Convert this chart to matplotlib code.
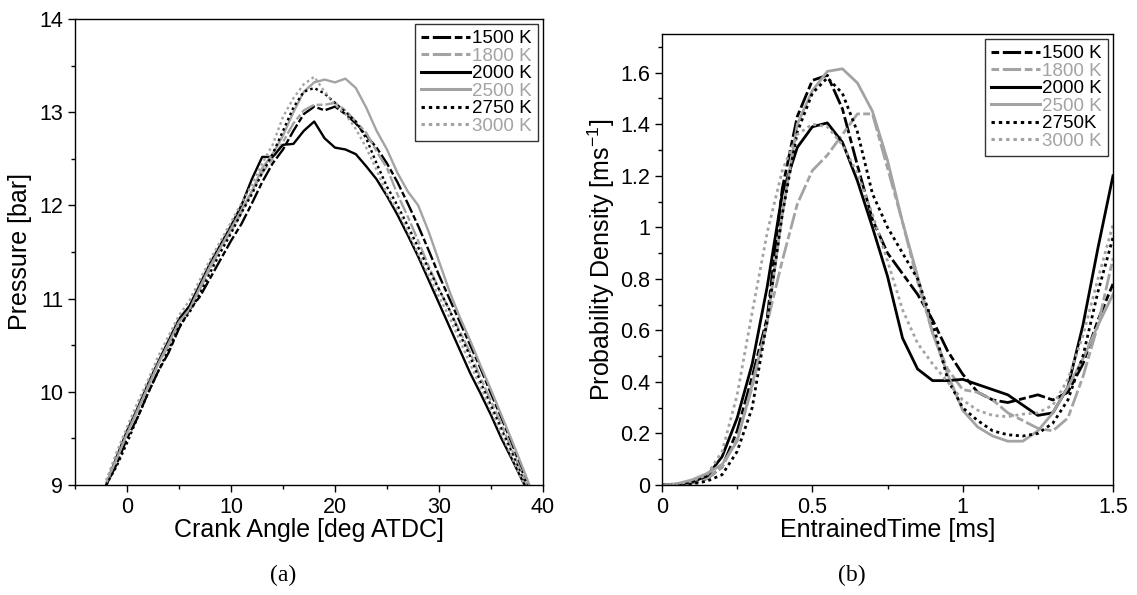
import numpy as np
import matplotlib
matplotlib.use('Agg')
import matplotlib.pyplot as plt
from matplotlib.ticker import MultipleLocator, FuncFormatter

plt.rcParams['font.family'] = ['Liberation Sans', 'DejaVu Sans']

# ---- panel (a): in-cylinder pressure vs crank angle ----
crank = [-2, -1, 0, 1, 2, 3, 4, 5, 6, 7, 8, 9, 10, 11, 12, 13, 14, 15, 16, 17, 18,
         19, 20, 21, 22, 23, 24, 25, 26, 27, 28, 29, 30, 31, 32, 33, 34, 35, 36, 37, 38, 38.7]
p1500 = [9.0, 9.22, 9.5, 9.72, 9.98, 10.22, 10.42, 10.68, 10.88, 11.02, 11.22, 11.42, 11.62, 11.8,
         12.02, 12.25, 12.45, 12.6, 12.8, 12.98, 13.06,
         13.02, 13.06, 12.98, 12.88, 12.75, 12.62, 12.45, 12.25, 12.02, 11.78, 11.52, 11.25, 11.0,
         10.75, 10.5, 10.25, 9.98, 9.72, 9.45, 9.15, 8.95]
p1800 = [9.02, 9.3, 9.55, 9.8, 10.05, 10.3, 10.5, 10.75, 10.9, 11.1, 11.32, 11.55, 11.72, 11.92,
         12.15, 12.35, 12.5, 12.68, 12.88, 13.02, 13.08,
         13.08, 13.1, 13.02, 12.9, 12.78, 12.58, 12.4, 12.12, 11.88, 11.62, 11.35, 11.1, 10.88,
         10.65, 10.42, 10.15, 9.9, 9.65, 9.38, 9.12, 8.95]
p2000 = [9.0, 9.3, 9.58, 9.82, 10.08, 10.32, 10.55, 10.78, 10.92, 11.15, 11.38, 11.58, 11.78, 12.0,
         12.28, 12.52, 12.52, 12.65, 12.66, 12.8, 12.9,
         12.72, 12.62, 12.6, 12.55, 12.42, 12.28, 12.1, 11.9, 11.68, 11.45, 11.2, 10.95, 10.7,
         10.45, 10.2, 9.98, 9.75, 9.5, 9.28, 9.05, 8.9]
p2500 = [9.02, 9.28, 9.55, 9.8, 10.05, 10.3, 10.52, 10.75, 10.88, 11.12, 11.35, 11.55, 11.75, 11.95,
         12.15, 12.4, 12.55, 12.75, 13.0, 13.22, 13.32,
         13.35, 13.32, 13.36, 13.26, 13.05, 12.8, 12.6, 12.35, 12.15, 12.0, 11.72, 11.4, 11.08,
         10.8, 10.55, 10.28, 10.02, 9.75, 9.48, 9.2, 9.0]
p2750 = [9.0, 9.2, 9.45, 9.72, 9.98, 10.22, 10.45, 10.7, 10.85, 11.05, 11.28, 11.5, 11.7, 11.92,
         12.12, 12.35, 12.55, 12.8, 13.05, 13.22, 13.26,
         13.2, 13.1, 13.0, 12.9, 12.72, 12.45, 12.2, 12.0, 11.78, 11.55, 11.32, 11.1, 10.88,
         10.62, 10.38, 10.1, 9.85, 9.6, 9.35, 9.08, 8.95]
p3000 = [9.05, 9.35, 9.62, 9.88, 10.12, 10.38, 10.6, 10.82, 10.98, 11.2, 11.42, 11.62, 11.82, 12.02,
         12.22, 12.45, 12.65, 12.95, 13.15, 13.3, 13.38,
         13.22, 13.08, 12.98, 12.82, 12.62, 12.38, 12.12, 11.95, 11.72, 11.48, 11.25, 11.02, 10.8,
         10.55, 10.3, 10.05, 9.8, 9.55, 9.3, 9.05, 8.95]

# ---- panel (b): entrained time pdf ----
etime = [0.0, 0.05, 0.1, 0.15, 0.2, 0.25, 0.3, 0.35, 0.4, 0.45, 0.5, 0.55, 0.6, 0.65, 0.7, 0.75,
         0.8, 0.85, 0.9, 0.95, 1.0, 1.05, 1.1, 1.15, 1.2, 1.25, 1.3, 1.35, 1.4, 1.45, 1.5]
d1500 = [0.0, 0.002, 0.008, 0.025, 0.07, 0.21, 0.42, 0.65, 1.15, 1.43, 1.57, 1.59, 1.46, 1.24, 1.03,
         0.9, 0.82, 0.74, 0.64, 0.52, 0.43, 0.36, 0.33, 0.32, 0.335, 0.35, 0.33, 0.36, 0.47, 0.64, 0.78]
d1800 = [0.0, 0.002, 0.008, 0.025, 0.07, 0.18, 0.38, 0.63, 0.87, 1.09, 1.22, 1.28, 1.36, 1.44, 1.44,
         1.23, 1.02, 0.79, 0.59, 0.45, 0.37, 0.36, 0.33, 0.28, 0.25, 0.22, 0.21, 0.26, 0.42, 0.62, 0.88]
d2000 = [0.0, 0.003, 0.012, 0.035, 0.11, 0.26, 0.47, 0.77, 1.13, 1.31, 1.39, 1.405, 1.33, 1.18, 1.0,
         0.81, 0.57, 0.45, 0.405, 0.405, 0.41, 0.39, 0.37, 0.35, 0.31, 0.27, 0.28, 0.38, 0.62, 0.92, 1.2]
d2500 = [0.0, 0.005, 0.02, 0.045, 0.08, 0.17, 0.39, 0.63, 1.05, 1.4, 1.53, 1.605, 1.615, 1.56, 1.45,
         1.26, 1.02, 0.81, 0.59, 0.43, 0.29, 0.225, 0.19, 0.17, 0.17, 0.21, 0.28, 0.38, 0.49, 0.62, 0.74]
d2750 = [0.0, 0.001, 0.004, 0.015, 0.04, 0.13, 0.3, 0.64, 1.05, 1.37, 1.52, 1.58, 1.52, 1.37, 1.13,
         1.0, 0.9, 0.8, 0.63, 0.41, 0.3, 0.25, 0.21, 0.195, 0.19, 0.2, 0.24, 0.33, 0.5, 0.75, 0.96]
d3000 = [0.0, 0.003, 0.015, 0.04, 0.13, 0.35, 0.67, 0.98, 1.22, 1.36, 1.4, 1.39, 1.32, 1.21, 1.05,
         0.87, 0.68, 0.55, 0.47, 0.4, 0.33, 0.29, 0.27, 0.265, 0.275, 0.28, 0.31, 0.41, 0.58, 0.8, 1.01]

labelsA = ['1500 K', '1800 K', '2000 K', '2500 K', '2750 K', '3000 K']
labelsB = ['1500 K', '1800 K', '2000 K', '2500 K', '2750K', '3000 K']

gray = '#a3a3a3'
colors = ['k', gray, 'k', gray, 'k', gray]
dashdash = (2.5, 1.2, 6, 1.2)
dots = (1.1, 1.3)
styles = [dashdash, dashdash, None, None, dots, dots]


def fmt(v, pos):
    return '%g' % v


def drawPanel(ax, x, series, labels, lw):
    for i in range(len(series)):
        line, = ax.plot(x, series[i], color=colors[i], lw=lw, label=labels[i])
        if styles[i] is not None:
            line.set_dashes(styles[i])
    leg = ax.legend(loc='upper right', fontsize=13.5, frameon=True, fancybox=False,
                    handlelength=2.6, handletextpad=0.1, labelspacing=0.02,
                    borderpad=0.35, borderaxespad=0.25)
    leg.get_frame().set_edgecolor('k')
    leg.get_frame().set_linewidth(1.0)
    for h in leg.get_lines():
        h.set_linewidth(2.2)
    for i, t in enumerate(leg.get_texts()):
        t.set_color(colors[i])
    ax.tick_params(which='both', direction='out', top=False, right=False, labelsize=15.5)
    ax.tick_params(which='major', length=5, width=1)
    ax.tick_params(which='minor', length=3, width=1)
    ax.xaxis.set_major_formatter(FuncFormatter(fmt))
    ax.yaxis.set_major_formatter(FuncFormatter(fmt))
    for s in ax.spines.values():
        s.set_linewidth(1.0)


fig = plt.figure(figsize=(11.37, 5.95), dpi=100)

ax1 = fig.add_axes([75 / 1137, 1 - 485 / 595, 468 / 1137, 466 / 595])
drawPanel(ax1, crank, [p1500, p1800, p2000, p2500, p2750, p3000], labelsA, 1.7)
ax1.set_xlim(-5, 40)
ax1.set_ylim(9, 14)
ax1.xaxis.set_major_locator(MultipleLocator(10))
ax1.xaxis.set_minor_locator(MultipleLocator(5))
ax1.yaxis.set_major_locator(MultipleLocator(1))
ax1.yaxis.set_minor_locator(MultipleLocator(0.5))
ax1.set_xlabel('Crank Angle [deg ATDC]', fontsize=18, labelpad=0)
ax1.set_ylabel('Pressure [bar]', fontsize=18, labelpad=5)

ax2 = fig.add_axes([662 / 1137, 1 - 485 / 595, 451 / 1137, 451 / 595])
drawPanel(ax2, etime, [d1500, d1800, d2000, d2500, d2750, d3000], labelsB, 2.0)
ax2.set_xlim(0, 1.5)
ax2.set_ylim(0, 1.75)
ax2.xaxis.set_major_locator(MultipleLocator(0.5))
ax2.xaxis.set_minor_locator(MultipleLocator(0.25))
ax2.yaxis.set_major_locator(MultipleLocator(0.2))
ax2.yaxis.set_minor_locator(MultipleLocator(0.1))
ax2.set_xlabel('EntrainedTime [ms]', fontsize=18, labelpad=0)
ax2.set_ylabel('Probability Density [ms$^{\\mathregular{-1}}$]', fontsize=18, labelpad=2)

fig.text(283 / 1137, 1 - 575 / 595, '(a)', family='Liberation Serif', fontsize=17,
         ha='center', va='center')
fig.text(852 / 1137, 1 - 575 / 595, '(b)', family='Liberation Serif', fontsize=17,
         ha='center', va='center')

fig.savefig('out.png', dpi=100)
